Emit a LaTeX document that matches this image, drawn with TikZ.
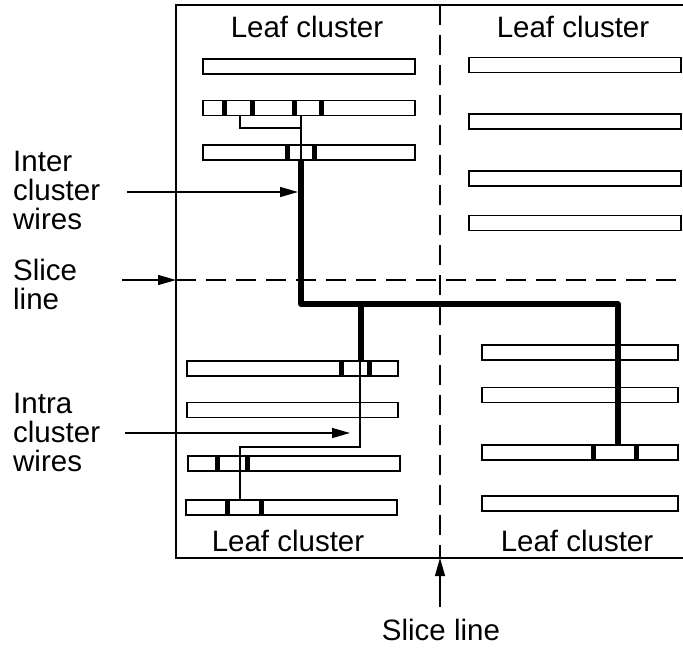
\documentclass[tikz,border=0pt]{standalone}
\usepackage{fontspec}
\setmainfont{Liberation Sans}
\usetikzlibrary{arrows.meta}

\tikzset{
  cellrow/.style={draw, line width=1.5pt, inner sep=0pt, minimum height=15pt},
  via/.style={line width=5pt},
  thinwire/.style={line width=1.6pt},
  thickwire/.style={line width=5.5pt, line join=round},
  pointer/.style={line width=1.4pt, -{Triangle[length=18pt,width=10pt]}},
  txt/.style={font=\fontsize{29.5}{29}\selectfont, inner sep=0pt},
  sliceline/.style={line width=1.4pt, dash pattern=on 20pt off 10pt}
}
\newcommand{\via}[2]{\draw[via] (#1,0 |- #2.north) -- (#1,0 |- #2.south);}

\begin{document}
\begin{tikzpicture}[x=1pt, y=-1pt]
\useasboundingbox (0,0) rectangle (683,649);
% Outer frame and slice lines
\draw[line width=1.4pt] (683,5) -- (176,5) -- (176,558) -- (683,558);
\draw[sliceline] (176,280) -- (683,280);
\draw[sliceline] (440,5) -- (440,558);

% Leaf cluster titles
\node[txt] (titleTL) at (307,27) {Leaf cluster};
\node[txt] (titleTR) at (573,27) {Leaf cluster};
\node[txt] (titleBL) at (288,541) {Leaf cluster};
\node[txt] (titleBR) at (577,541) {Leaf cluster};

% Top left rows
\node[cellrow, minimum width=212pt] (tl1) at (309,66.5) {};
\node[cellrow, minimum width=212pt] (tl2) at (309,108) {};
\node[cellrow, minimum width=212pt] (tl3) at (309,152.5) {};
\via{224}{tl2} \via{252}{tl2} \via{294}{tl2} \via{321}{tl2}
\via{287}{tl3} \via{314}{tl3}

% Top right rows
\node[cellrow, minimum width=212pt] (tr1) at (575,65) {};
\node[cellrow, minimum width=212pt] (tr2) at (575,121.5) {};
\node[cellrow, minimum width=212pt] (tr3) at (575,178.5) {};
\node[cellrow, minimum width=212pt] (tr4) at (575,223) {};

% Bottom left rows
\node[cellrow, minimum width=211pt] (bl1) at (292.5,368.5) {};
\node[cellrow, minimum width=211pt] (bl2) at (292.5,410) {};
\node[cellrow, minimum width=212pt] (bl3) at (294,463.5) {};
\node[cellrow, minimum width=211pt] (bl4) at (291.5,507.5) {};
\via{341}{bl1} \via{369}{bl1}
\via{217}{bl3} \via{247}{bl3}
\via{227}{bl4} \via{261}{bl4}

% Bottom right rows
\node[cellrow, minimum width=196pt] (br1) at (580,352.5) {};
\node[cellrow, minimum width=196pt] (br2) at (580,395) {};
\node[cellrow, minimum width=196pt] (br3) at (580,452.5) {};
\node[cellrow, minimum width=196pt] (br4) at (580,503.5) {};
\via{593}{br3} \via{636}{br3}

% Intra cluster wires
\draw[thinwire] (240,0 |- tl2.south) -- (240,128) -- (301,128);
\draw[thinwire] (301,0 |- tl2.south) -- (301,0 |- tl3.south);
\draw[thinwire] (360,0 |- bl1.north) -- (360,447) -- (240,447) -- (240,0 |- bl4.north);

% Inter cluster wires
\draw[thickwire] (301,0 |- tl3.south) -- (301,304) -- (618,304) -- (618,0 |- br3.north);
\draw[thickwire] (361,304) -- (361,0 |- bl1.north);

% Side labels and pointers
\node[txt, anchor=west, align=left] (lblInter) at (13,190) {Inter\\cluster\\wires};
\node[txt, anchor=west, align=left] (lblSlice) at (13,284) {Slice\\line};
\node[txt, anchor=west, align=left] (lblIntra) at (13,432) {Intra\\cluster\\wires};
\node[txt] (lblSliceB) at (441,630) {Slice line};
\coordinate (interTip) at (298,192);
\coordinate (intraTip) at (350,433);
\coordinate (sliceTipL) at (176,280);
\coordinate (sliceTipB) at (440,558);
\draw[pointer] (127,192) -- (interTip);
\draw[pointer] (122,280) -- (sliceTipL);
\draw[pointer] (125,433) -- (intraTip);
\draw[pointer] (440,607) -- (sliceTipB);
\end{tikzpicture}
\end{document}
